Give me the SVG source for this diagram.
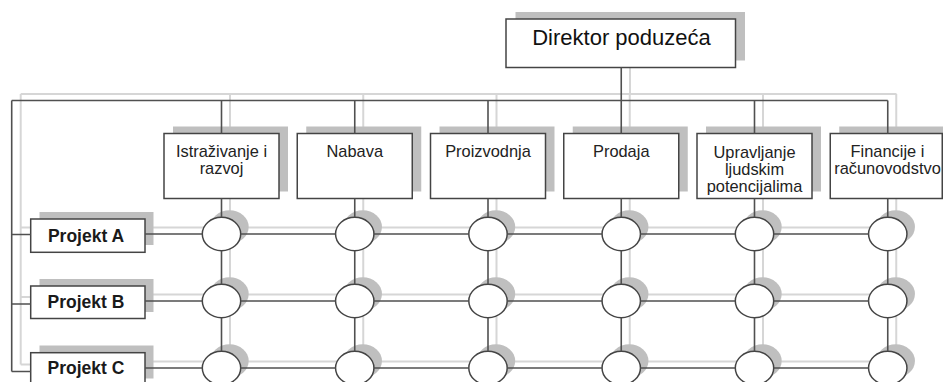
<svg xmlns="http://www.w3.org/2000/svg" width="943" height="382" viewBox="0 0 943 382">
<style>
.bg{fill:#ffffff}
.lite{fill:none;stroke:#d6d6d6;stroke-width:2}
.dark{fill:none;stroke:#505050;stroke-width:1.6}
.sh{fill:#bfbfbf;stroke:none}
.box{fill:#ffffff;stroke:#444444;stroke-width:1.5}
.dept{font-family:"Liberation Sans",Arial,sans-serif;font-size:16.4px;fill:#222222;text-anchor:middle}
.proj{font-family:"Liberation Sans",Arial,sans-serif;font-size:17.5px;font-weight:bold;fill:#1a1a1a;text-anchor:middle}
.dir{font-family:"Liberation Sans",Arial,sans-serif;font-size:22px;fill:#111111;text-anchor:middle}
</style>
<rect class="bg" x="0" y="0" width="943" height="382"/>

<g id="connector-shadows" class="lite">
<path d="M630 60V94 M20.7 94H896.5 M20.7 94V364.5 M20.7 227.5H39 M20.7 297H39 M20.7 364.5H39"/>
<path d="M230 94V382 M363.25 94V382 M496.5 94V382 M629.75 94V382 M763 94V382 M896.25 94V382"/>
<path d="M153 227.5H896.5 M153 294.5H896.5 M153 361.5H896.5"/>
</g>

<g id="director">
<rect class="sh" x="515.5" y="12" width="229.5" height="48.5"/>
<rect class="box" x="506" y="19" width="229.5" height="48.5"/>
<text class="dir" x="621.5" y="45">Direktor poduzeća</text>
</g>

<g id="dept-istrazivanje">
<rect class="sh" x="173" y="126.5" width="115" height="65"/>
<rect class="box" x="164" y="133.5" width="115" height="65"/>
<text class="dept" x="221.5" y="157">Istraživanje i</text>
<text class="dept" x="221.5" y="174">razvoj</text>
</g>
<g id="dept-nabava">
<rect class="sh" x="306.25" y="126.5" width="115" height="65"/>
<rect class="box" x="297.25" y="133.5" width="115" height="65"/>
<text class="dept" x="354.75" y="157">Nabava</text>
</g>
<g id="dept-proizvodnja">
<rect class="sh" x="439.5" y="126.5" width="115" height="65"/>
<rect class="box" x="430.5" y="133.5" width="115" height="65"/>
<text class="dept" x="488" y="157">Proizvodnja</text>
</g>
<g id="dept-prodaja">
<rect class="sh" x="572.75" y="126.5" width="115" height="65"/>
<rect class="box" x="563.75" y="133.5" width="115" height="65"/>
<text class="dept" x="621.25" y="157">Prodaja</text>
</g>
<g id="dept-upravljanje">
<rect class="sh" x="706" y="126.5" width="115" height="65"/>
<rect class="box" x="697" y="133.5" width="115" height="65"/>
<text class="dept" x="754.5" y="157.5">Upravljanje</text>
<text class="dept" x="754.5" y="174.5">ljudskim</text>
<text class="dept" x="754.5" y="191.5">potencijalima</text>
</g>
<g id="dept-financije">
<rect class="sh" x="839.25" y="126.5" width="115" height="65"/>
<rect class="box" x="830.25" y="133.5" width="112" height="65"/>
<text class="dept" x="887.5" y="157">Financije i</text>
<text class="dept" x="887.5" y="174">računovodstvo</text>
</g>

<g id="projekt-a">
<rect class="sh" x="39.5" y="212" width="114" height="33"/>
<rect class="box" x="30.7" y="219" width="114.3" height="33.3"/>
<text class="proj" x="86" y="241.7">Projekt A</text>
</g>
<g id="projekt-b">
<rect class="sh" x="39.5" y="279" width="114" height="33"/>
<rect class="box" x="30.7" y="286" width="114.3" height="32.5"/>
<text class="proj" x="86" y="308">Projekt B</text>
</g>
<g id="projekt-c">
<rect class="sh" x="39.5" y="345.5" width="114" height="33"/>
<rect class="box" x="30.7" y="352.7" width="114.3" height="33.3"/>
<text class="proj" x="86" y="374">Projekt C</text>
</g>

<g id="cells-row-a">
<ellipse class="sh" cx="229.5" cy="227" rx="19.2" ry="16.7"/>
<ellipse class="sh" cx="362.75" cy="227" rx="19.2" ry="16.7"/>
<ellipse class="sh" cx="496" cy="227" rx="19.2" ry="16.7"/>
<ellipse class="sh" cx="629.25" cy="227" rx="19.2" ry="16.7"/>
<ellipse class="sh" cx="762.5" cy="227" rx="19.2" ry="16.7"/>
<ellipse class="sh" cx="895.75" cy="227" rx="19.2" ry="16.7"/>
<ellipse class="box" cx="221.5" cy="234" rx="19.2" ry="16.7"/>
<ellipse class="box" cx="354.75" cy="234" rx="19.2" ry="16.7"/>
<ellipse class="box" cx="488" cy="234" rx="19.2" ry="16.7"/>
<ellipse class="box" cx="621.25" cy="234" rx="19.2" ry="16.7"/>
<ellipse class="box" cx="754.5" cy="234" rx="19.2" ry="16.7"/>
<ellipse class="box" cx="887.75" cy="234" rx="19.2" ry="16.7"/>
</g>
<g id="cells-row-b">
<ellipse class="sh" cx="229.5" cy="294" rx="19.2" ry="16.7"/>
<ellipse class="sh" cx="362.75" cy="294" rx="19.2" ry="16.7"/>
<ellipse class="sh" cx="496" cy="294" rx="19.2" ry="16.7"/>
<ellipse class="sh" cx="629.25" cy="294" rx="19.2" ry="16.7"/>
<ellipse class="sh" cx="762.5" cy="294" rx="19.2" ry="16.7"/>
<ellipse class="sh" cx="895.75" cy="294" rx="19.2" ry="16.7"/>
<ellipse class="box" cx="221.5" cy="301" rx="19.2" ry="16.7"/>
<ellipse class="box" cx="354.75" cy="301" rx="19.2" ry="16.7"/>
<ellipse class="box" cx="488" cy="301" rx="19.2" ry="16.7"/>
<ellipse class="box" cx="621.25" cy="301" rx="19.2" ry="16.7"/>
<ellipse class="box" cx="754.5" cy="301" rx="19.2" ry="16.7"/>
<ellipse class="box" cx="887.75" cy="301" rx="19.2" ry="16.7"/>
</g>
<g id="cells-row-c">
<ellipse class="sh" cx="229.5" cy="361" rx="19.2" ry="16.7"/>
<ellipse class="sh" cx="362.75" cy="361" rx="19.2" ry="16.7"/>
<ellipse class="sh" cx="496" cy="361" rx="19.2" ry="16.7"/>
<ellipse class="sh" cx="629.25" cy="361" rx="19.2" ry="16.7"/>
<ellipse class="sh" cx="762.5" cy="361" rx="19.2" ry="16.7"/>
<ellipse class="sh" cx="895.75" cy="361" rx="19.2" ry="16.7"/>
<ellipse class="box" cx="221.5" cy="368" rx="19.2" ry="16.7"/>
<ellipse class="box" cx="354.75" cy="368" rx="19.2" ry="16.7"/>
<ellipse class="box" cx="488" cy="368" rx="19.2" ry="16.7"/>
<ellipse class="box" cx="621.25" cy="368" rx="19.2" ry="16.7"/>
<ellipse class="box" cx="754.5" cy="368" rx="19.2" ry="16.7"/>
<ellipse class="box" cx="887.75" cy="368" rx="19.2" ry="16.7"/>
</g>

<g id="connectors" class="dark">
<path d="M621.25 67.5V100.5 M11.7 100.5H887.75 M11.7 100.5V371.5 M11.7 234.5H30.7 M11.7 304H30.7 M11.7 371.5H30.7"/>
<path d="M221.5 100.5V133.5 M221.5 198.5V217.3 M221.5 250.7V284.3 M221.5 317.7V351.3"/>
<path d="M354.75 100.5V133.5 M354.75 198.5V217.3 M354.75 250.7V284.3 M354.75 317.7V351.3"/>
<path d="M488 100.5V133.5 M488 198.5V217.3 M488 250.7V284.3 M488 317.7V351.3"/>
<path d="M621.25 100.5V133.5 M621.25 198.5V217.3 M621.25 250.7V284.3 M621.25 317.7V351.3"/>
<path d="M754.5 100.5V133.5 M754.5 198.5V217.3 M754.5 250.7V284.3 M754.5 317.7V351.3"/>
<path d="M887.75 100.5V133.5 M887.75 198.5V217.3 M887.75 250.7V284.3 M887.75 317.7V351.3"/>
<path d="M145 234H202.3 M240.7 234H335.55 M373.95 234H468.8 M507.2 234H602.05 M640.45 234H735.3 M773.7 234H868.55"/>
<path d="M145 301H202.3 M240.7 301H335.55 M373.95 301H468.8 M507.2 301H602.05 M640.45 301H735.3 M773.7 301H868.55"/>
<path d="M145 368H202.3 M240.7 368H335.55 M373.95 368H468.8 M507.2 368H602.05 M640.45 368H735.3 M773.7 368H868.55"/>
</g>
</svg>
